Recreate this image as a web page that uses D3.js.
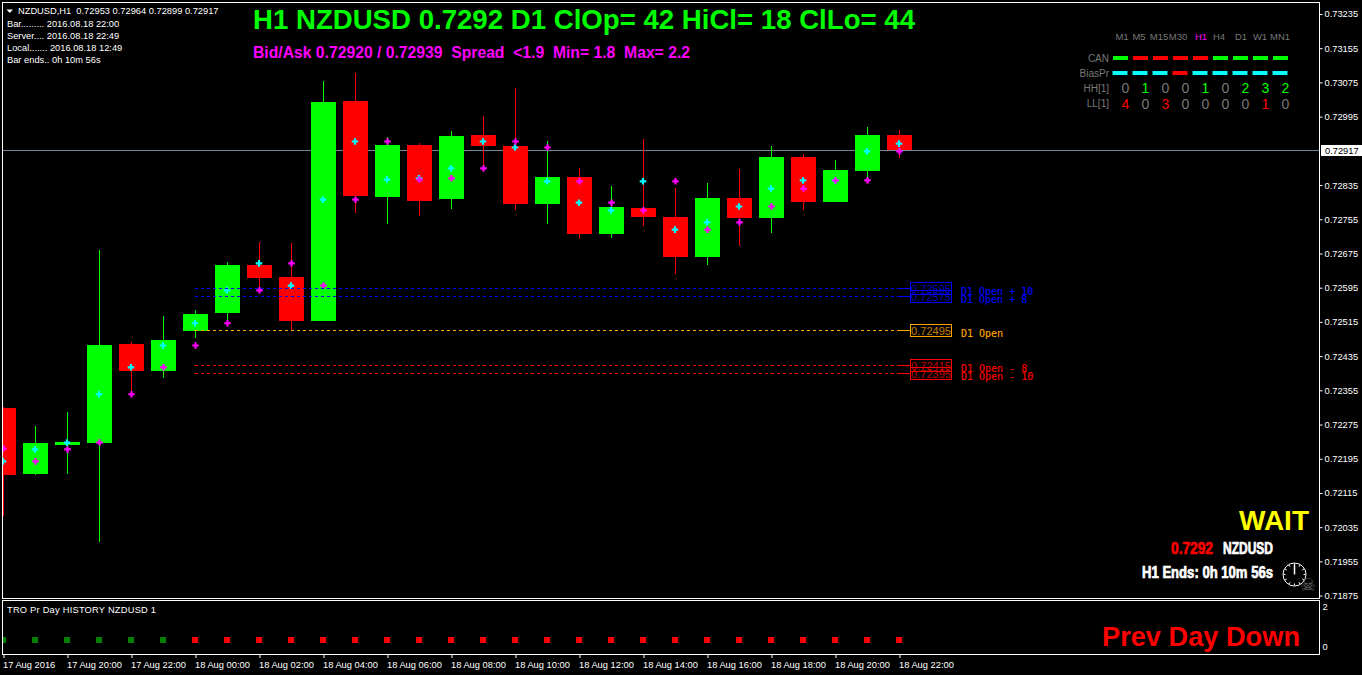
<!DOCTYPE html>
<html>
<head>
<meta charset="utf-8">
<title>NZDUSD,H1</title>
<script src="https://cdnjs.cloudflare.com/ajax/libs/d3/7.8.5/d3.min.js"></script>
<style>
  html, body { margin: 0; padding: 0; background: #000; overflow: hidden; }
  svg { display: block; }
  text { white-space: pre; }
  .small { font-family: "Liberation Sans", sans-serif; font-size: 9.3px; fill: #fff; }
  .heavy { font-family: "Liberation Sans Narrow", "Liberation Sans", sans-serif; font-weight: bold; stroke-width: 0.7px; }
  .bold { font-family: "Liberation Sans", sans-serif; font-weight: bold; }
  .mono { font-family: "DejaVu Sans Mono", monospace; font-size: 10px; stroke-width: 0.12px; }
  .tick line { stroke: #fff; }
  .tick text { font-family: "Liberation Sans", sans-serif; font-size: 9.3px; fill: #fff; }
  .domain { display: none; }
</style>
</head>
<body>
<svg id="chart" width="1362" height="675"></svg>
<script>
// ---------- data ----------

const barTimes = [
  "2016-08-17 18:00", "2016-08-17 19:00", "2016-08-17 20:00", "2016-08-17 21:00", "2016-08-17 22:00", "2016-08-17 23:00",
  "2016-08-18 00:00", "2016-08-18 01:00", "2016-08-18 02:00", "2016-08-18 03:00", "2016-08-18 04:00", "2016-08-18 05:00",
  "2016-08-18 06:00", "2016-08-18 07:00", "2016-08-18 08:00", "2016-08-18 09:00", "2016-08-18 10:00", "2016-08-18 11:00",
  "2016-08-18 12:00", "2016-08-18 13:00", "2016-08-18 14:00", "2016-08-18 15:00", "2016-08-18 16:00", "2016-08-18 17:00",
  "2016-08-18 18:00", "2016-08-18 19:00", "2016-08-18 20:00", "2016-08-18 21:00", "2016-08-18 22:00"
];
const opens = [
  0.72314, 0.72160, 0.72227, 0.72232, 0.72463, 0.72400, 0.72494, 0.72536, 0.72648, 0.72620,
  0.72517, 0.73032, 0.72807, 0.72929, 0.72802, 0.72952, 0.72926, 0.72791, 0.72854, 0.72721,
  0.72781, 0.72760, 0.72667, 0.72805, 0.72758, 0.72901, 0.72795, 0.72868, 0.72953
];
const highs = [
  0.72316, 0.72272, 0.72304, 0.72683, 0.72468, 0.72529, 0.72543, 0.72655, 0.72702, 0.72700,
  0.73078, 0.73097, 0.72947, 0.72933, 0.72961, 0.72997, 0.73062, 0.72938, 0.72875, 0.72833,
  0.72943, 0.72828, 0.72840, 0.72873, 0.72926, 0.72908, 0.72894, 0.72971, 0.72964
];
const lows = [
  0.72060, 0.72157, 0.72160, 0.72001, 0.72347, 0.72384, 0.72478, 0.72520, 0.72590, 0.72494,
  0.72517, 0.72770, 0.72744, 0.72763, 0.72779, 0.72875, 0.72777, 0.72744, 0.72709, 0.72711,
  0.72739, 0.72627, 0.72648, 0.72693, 0.72723, 0.72777, 0.72795, 0.72847, 0.72899
];
const closes = [
  0.72157, 0.72232, 0.72234, 0.72461, 0.72400, 0.72473, 0.72534, 0.72648, 0.72618, 0.72517,
  0.73029, 0.72809, 0.72929, 0.72798, 0.72950, 0.72926, 0.72791, 0.72854, 0.72721, 0.72784,
  0.72760, 0.72667, 0.72805, 0.72758, 0.72901, 0.72795, 0.72870, 0.72952, 0.72917
];
const cyanDots = [
  0.72190, 0.72218, 0.72234, 0.72347, 0.72410, 0.72461, 0.72513, 0.72590, 0.72653, 0.72601,
  0.72802, 0.72938, 0.72849, 0.72852, 0.72875, 0.72938, 0.72924, 0.72845, 0.72795, 0.72777,
  0.72845, 0.72732, 0.72749, 0.72786, 0.72828, 0.72847, 0.72847, 0.72915, 0.72933
];
const magentaDots = [
  0.72220, 0.72190, 0.72218, 0.72234, 0.72347, 0.72410, 0.72461, 0.72513, 0.72590, 0.72653,
  0.72601, 0.72802, 0.72938, 0.72849, 0.72852, 0.72875, 0.72938, 0.72924, 0.72845, 0.72795,
  0.72777, 0.72845, 0.72732, 0.72749, 0.72786, 0.72828, 0.72847, 0.72847, 0.72915
];
const priceTicks = [
  0.73235, 0.73155, 0.73075, 0.72995, 0.72835, 0.72755, 0.72675, 0.72595, 0.72515,
  0.72435, 0.72355, 0.72275, 0.72195, 0.72115, 0.72035, 0.71955, 0.71875
];
const currentPrice = 0.72917;
const levelPrices = [0.72595, 0.72575, 0.72495, 0.72415, 0.72395];
const levelNames = ["D1 Open + 10", "D1 Open + 8", "D1 Open", "D1 Open - 8", "D1 Open - 10"];
const levelColors = ["#0000ff", "#0000ff", "#ffa500", "#ff0000", "#ff0000"];
const timeTicks = [
  "2016-08-17 18:00", "2016-08-17 20:00", "2016-08-17 22:00", "2016-08-18 00:00", "2016-08-18 02:00",
  "2016-08-18 04:00", "2016-08-18 06:00", "2016-08-18 08:00", "2016-08-18 10:00", "2016-08-18 12:00",
  "2016-08-18 14:00", "2016-08-18 16:00", "2016-08-18 18:00", "2016-08-18 20:00", "2016-08-18 22:00"
];

// prev day indicator, one buffer per colour
const prevDayUp = [0.35, 0.35, 0.35, 0.35, 0.35, 0.35];
const prevDayDown = [
  null, null, null, null, null, null, 0.35, 0.35, 0.35, 0.35, 0.35, 0.35, 0.35, 0.35, 0.35, 0.35,
  0.35, 0.35, 0.35, 0.35, 0.35, 0.35, 0.35, 0.35, 0.35, 0.35, 0.35, 0.35, 0.35
];

// multi timeframe table, top right
const tfNames = ["M1", "M5", "M15", "M30", "H1", "H4", "D1", "W1", "MN1"];
const tfCentres = [1122, 1139, 1159, 1178, 1201, 1219, 1241, 1260, 1280];
const canRow = ["up", "down", "down", "down", "down", "up", "up", "up", "up"];
const biasRow = ["up", "up", "up", "down", "up", "up", "up", "up", "up"];
const hhRow = [0, 1, 0, 0, 1, 0, 2, 3, 2];
const llRow = [4, 0, 3, 0, 0, 0, 0, 1, 0];

const infoLines = [
  "Bar......... 2016.08.18 22:00",
  "Server.... 2016.08.18 22:49",
  "Local....... 2016.08.18 12:49",
  "Bar ends.. 0h 10m 56s"
];

// ---------- scales ----------

const svg = d3.select("#chart");
const parseTime = d3.utcParse("%Y-%m-%d %H:%M");
const times = barTimes.map(parseTime);

const plotLeft = 3, plotRight = 1319, plotTop = 3, mainBottom = 598, panelTop = 601, panelBottom = 654;

const x = d3.scaleUtc().domain([times[0], times[times.length - 1]]).range([3, 899]);
const y = d3.scaleLinear().domain([0.73235, 0.71875]).range([14, 595.6]);
const yPanel = d3.scaleLinear().domain([0, 2]).range([647, 607]);

svg.append("defs").append("clipPath").attr("id", "mainClip")
  .append("rect").attr("x", plotLeft).attr("y", plotTop).attr("width", plotRight - plotLeft).attr("height", mainBottom - plotTop);
svg.append("defs").append("clipPath").attr("id", "panelClip")
  .append("rect").attr("x", plotLeft).attr("y", panelTop).attr("width", plotRight - plotLeft).attr("height", panelBottom - panelTop);

// ---------- window frames ----------

const frameG = svg.append("g").attr("fill", "none").attr("stroke", "#fff").attr("shape-rendering", "crispEdges");
frameG.append("rect").attr("x", 2.5).attr("y", 2.5).attr("width", plotRight - 2).attr("height", mainBottom - 2);
frameG.append("rect").attr("x", 2.5).attr("y", panelTop - 0.5).attr("width", plotRight - 2).attr("height", panelBottom - panelTop + 1);

// ---------- candles ----------

const main = svg.append("g").attr("clip-path", "url(#mainClip)");

// current price line goes behind the candles
main.append("line")
  .attr("x1", plotLeft).attr("x2", plotRight)
  .attr("y1", Math.round(y(currentPrice)) + 0.5).attr("y2", Math.round(y(currentPrice)) + 0.5)
  .attr("stroke", "#778899");

const candleColor = i => closes[i] >= opens[i] ? "#00ff00" : "#ff0000";

main.selectAll("rect.wick").data(times).enter().append("rect")
  .attr("class", "wick")
  .attr("x", d => x(d))
  .attr("width", 1)
  .attr("y", (d, i) => Math.round(y(highs[i])))
  .attr("height", (d, i) => Math.round(y(lows[i])) - Math.round(y(highs[i])))
  .attr("fill", (d, i) => candleColor(i))
  .attr("shape-rendering", "crispEdges");

main.selectAll("rect.body").data(times).enter().append("rect")
  .attr("class", "body")
  .attr("x", d => x(d) - 12)
  .attr("width", 25)
  .attr("y", (d, i) => Math.round(y(Math.max(opens[i], closes[i]))))
  .attr("height", (d, i) => Math.max(3, Math.round(y(Math.min(opens[i], closes[i]))) - Math.round(y(Math.max(opens[i], closes[i])))))
  .attr("fill", (d, i) => candleColor(i))
  .attr("shape-rendering", "crispEdges");

// ---------- level lines with their boxes ----------

const levels = svg.append("g");
const levelStart = parseTime("2016-08-18 00:00");
const levelEnd = times[times.length - 1];

levelPrices.forEach((p, i) => {
  const ly = Math.round(y(p)) + 0.5;
  levels.append("line")
    .attr("x1", x(levelStart)).attr("x2", x(levelEnd))
    .attr("y1", ly).attr("y2", ly)
    .attr("stroke", levelColors[i]).attr("stroke-dasharray", "3,3");
  levels.append("line")
    .attr("x1", x(levelEnd)).attr("x2", 910)
    .attr("y1", ly).attr("y2", ly)
    .attr("stroke", levelColors[i]);
  levels.append("rect")
    .attr("x", 910.5).attr("y", ly - 6).attr("width", 41).attr("height", 12)
    .attr("fill", "none").attr("stroke", levelColors[i]).attr("stroke-width", 1)
    .attr("shape-rendering", "crispEdges");
  levels.append("text")
    .attr("x", 931).attr("y", ly + 4)
    .attr("text-anchor", "middle")
    .attr("font-family", "Liberation Sans, sans-serif").attr("font-size", 11)
    .attr("fill", levelColors[i]).attr("opacity", 0.75)
    .text(d3.format(".5f")(p));
  levels.append("text")
    .attr("class", "mono")
    .attr("x", 961).attr("y", ly + 6.5)
    .attr("fill", levelColors[i]).attr("stroke", levelColors[i])
    .text(levelNames[i]);
});

// ---------- indicator dots ----------

const dotPath = d3.symbol(d3.symbolCross).size(24)();
main.selectAll("path.cyan").data(times).enter().append("path")
  .attr("class", "cyan").attr("d", dotPath).attr("fill", "#00ffff")
  .attr("transform", (d, i) => `translate(${x(d)},${y(cyanDots[i]) + 0.5})`);
main.selectAll("path.magenta").data(times).enter().append("path")
  .attr("class", "magenta").attr("d", dotPath).attr("fill", "#ff00ff")
  .attr("transform", (d, i) => `translate(${x(d) + 0.5},${y(magentaDots[i]) + 0.5})`);

// ---------- axes ----------

const priceAxis = d3.axisRight(y).tickValues(priceTicks).tickFormat(d3.format(".5f")).tickSize(3).tickPadding(2);
svg.append("g").attr("class", "price-axis").attr("transform", `translate(${plotRight + 0.5},0)`).call(priceAxis);

// current price tag
const tagY = Math.round(y(currentPrice));
svg.append("rect").attr("x", 1321).attr("y", tagY - 5).attr("width", 41).attr("height", 11)
  .attr("fill", "#fff").attr("shape-rendering", "crispEdges");
svg.append("text").attr("class", "small")
  .attr("x", 1325).attr("y", tagY + 4)
  .style("fill", "#000")
  .text(d3.format(".5f")(currentPrice));

const fmtFirst = d3.utcFormat("%d %b %Y"), fmtTick = d3.utcFormat("%d %b %H:%M");
const timeAxis = d3.axisBottom(x)
  .tickValues(timeTicks.map(parseTime))
  .tickFormat((d, i) => i === 0 ? fmtFirst(d) : fmtTick(d))
  .tickSize(3);
svg.append("g").attr("class", "time-axis").attr("transform", `translate(0.5,${panelBottom + 1})`).call(timeAxis)
  .selectAll("text").attr("text-anchor", "start").attr("x", -1).attr("y", 6);

const panelAxis = d3.axisRight(yPanel).tickValues([0, 2]).tickFormat(d3.format("d")).tickSize(0).tickPadding(3);
svg.append("g").attr("class", "panel-axis").attr("transform", `translate(${plotRight + 0.5},0)`).call(panelAxis);

// ---------- prev day panel ----------

const panel = svg.append("g").attr("clip-path", "url(#panelClip)");
panel.selectAll("rect.up").data(prevDayUp).enter().append("rect")
  .attr("class", "up")
  .attr("x", (d, i) => x(times[i]) - 3).attr("width", 6)
  .attr("y", d => yPanel(d) - 3).attr("height", 6)
  .attr("fill", "#008000").attr("shape-rendering", "crispEdges");
panel.selectAll("rect.down").data(prevDayDown).enter().append("rect")
  .filter(d => d !== null)
  .attr("class", "down")
  .attr("x", (d, i) => x(times[i + 6]) - 3).attr("width", 6)
  .attr("y", d => yPanel(d) - 3).attr("height", 6)
  .attr("fill", "#ff0000").attr("shape-rendering", "crispEdges");

svg.append("text").attr("class", "small").attr("x", 7).attr("y", 613)
  .attr("textLength", 149).attr("lengthAdjust", "spacing")
  .text("TRO Pr Day HISTORY NZDUSD 1");
svg.append("text").attr("class", "bold").attr("x", 1102).attr("y", 646)
  .attr("font-size", 27).attr("fill", "#ff0000")
  .attr("textLength", 198).attr("lengthAdjust", "spacingAndGlyphs").text("Prev Day Down");

// ---------- text on the chart ----------

svg.append("path").attr("d", "M6.5,9.5 L13,9.5 L9.75,13 Z").attr("fill", "#fff");
svg.append("text").attr("class", "small").attr("x", 18).attr("y", 14)
  .text("NZDUSD,H1  0.72953 0.72964 0.72899 0.72917");
svg.selectAll("text.info").data(infoLines).enter().append("text")
  .attr("class", "small info")
  .attr("x", 7).attr("y", (d, i) => 27 + i * 12)
  .text(d => d);

svg.append("text").attr("class", "bold").attr("x", 253).attr("y", 29)
  .attr("font-size", 28).attr("fill", "#00ff00")
  .attr("textLength", 662).attr("lengthAdjust", "spacingAndGlyphs")
  .text("H1 NZDUSD 0.7292 D1 ClOp= 42 HiCl= 18 ClLo= 44");
svg.append("text").attr("class", "bold").attr("x", 253).attr("y", 58)
  .attr("font-size", 16).attr("fill", "#ff00ff")
  .attr("textLength", 437).attr("lengthAdjust", "spacingAndGlyphs")
  .text("Bid/Ask 0.72920 / 0.72939  Spread  <1.9  Min= 1.8  Max= 2.2");

// ---------- timeframe table ----------

const tableFont = "Liberation Sans, sans-serif";
const tableGrey = "#787878";
const trendColor = d => d === "up" ? "#00ff00" : "#ff0000";
const table = svg.append("g").attr("font-family", tableFont);

table.selectAll("text.frame").data(tfNames).enter().append("text")
  .attr("class", "frame")
  .attr("x", (d, i) => tfCentres[i]).attr("y", 40)
  .attr("text-anchor", "middle").attr("font-size", 9.5)
  .attr("fill", d => d === "H1" ? "#ff00ff" : tableGrey)
  .text(d => d);

[["CAN", 62], ["BiasPr", 77], ["HH[1]", 92], ["LL[1]", 107]].forEach(r => {
  table.append("text").attr("x", 1109).attr("y", r[1])
    .attr("text-anchor", "end").attr("font-size", 10).attr("fill", tableGrey).text(r[0]);
});

table.selectAll("rect.can").data(canRow).enter().append("rect")
  .attr("class", "can")
  .attr("x", (d, i) => 1113 + i * 20).attr("y", 56).attr("width", 15).attr("height", 4)
  .attr("fill", trendColor);
table.selectAll("rect.bias").data(biasRow).enter().append("rect")
  .attr("class", "bias")
  .attr("x", (d, i) => 1112.5 + i * 20).attr("y", 71).attr("width", 15).attr("height", 4)
  .attr("fill", d => d === "up" ? "#00ffff" : "#ff0000");
table.selectAll("text.hh").data(hhRow).enter().append("text")
  .attr("class", "hh")
  .attr("x", (d, i) => 1125.5 + i * 20).attr("y", 93)
  .attr("text-anchor", "middle").attr("font-size", 14)
  .attr("font-family", "Liberation Sans Narrow, sans-serif")
  .attr("fill", d => d > 0 ? "#00ff00" : tableGrey)
  .text(d => d);
table.selectAll("text.ll").data(llRow).enter().append("text")
  .attr("class", "ll")
  .attr("x", (d, i) => 1125.5 + i * 20).attr("y", 108.5)
  .attr("text-anchor", "middle").attr("font-size", 14)
  .attr("font-family", "Liberation Sans Narrow, sans-serif")
  .attr("fill", d => d > 0 ? "#ff0000" : tableGrey)
  .text(d => d);

// ---------- bottom right block ----------

svg.append("text").attr("class", "bold").attr("x", 1309).attr("y", 530)
  .attr("text-anchor", "end").attr("font-size", 28).attr("fill", "#ffff00").text("WAIT");
svg.append("text").attr("class", "heavy").attr("x", 1171).attr("y", 554)
  .attr("font-size", 16).attr("fill", "#ff0000").attr("stroke", "#ff0000")
  .attr("textLength", 42).attr("lengthAdjust", "spacingAndGlyphs").text("0.7292");
svg.append("text").attr("class", "heavy").attr("x", 1223).attr("y", 554)
  .attr("font-size", 16).attr("fill", "#fff").attr("stroke", "#fff")
  .attr("textLength", 50).attr("lengthAdjust", "spacingAndGlyphs").text("NZDUSD");
svg.append("text").attr("class", "heavy").attr("x", 1142).attr("y", 578)
  .attr("font-size", 16).attr("fill", "#fff").attr("stroke", "#fff")
  .attr("textLength", 131).attr("lengthAdjust", "spacingAndGlyphs").text("H1 Ends: 0h 10m 56s");

// clock with the skull next to it
const clock = svg.append("g").attr("transform", "translate(1294.5,574.5)");
clock.append("circle").attr("r", 11.5).attr("fill", "none").attr("stroke", "#fff");
clock.selectAll("line.mark").data(d3.range(12)).enter().append("line")
  .attr("class", "mark")
  .attr("x1", d => 9 * Math.sin(d * Math.PI / 6)).attr("y1", d => -9 * Math.cos(d * Math.PI / 6))
  .attr("x2", d => 11 * Math.sin(d * Math.PI / 6)).attr("y2", d => -11 * Math.cos(d * Math.PI / 6))
  .attr("stroke", "#fff");
clock.append("line").attr("x1", 0).attr("y1", 0).attr("x2", 0).attr("y2", -10).attr("stroke", "#fff").attr("stroke-width", 1.5);
svg.append("text").attr("x", 1308).attr("y", 591).attr("text-anchor", "middle")
  .attr("font-family", "DejaVu Sans").attr("font-size", 18).attr("fill", "#666").text("\u2620");
</script>
</body>
</html>
